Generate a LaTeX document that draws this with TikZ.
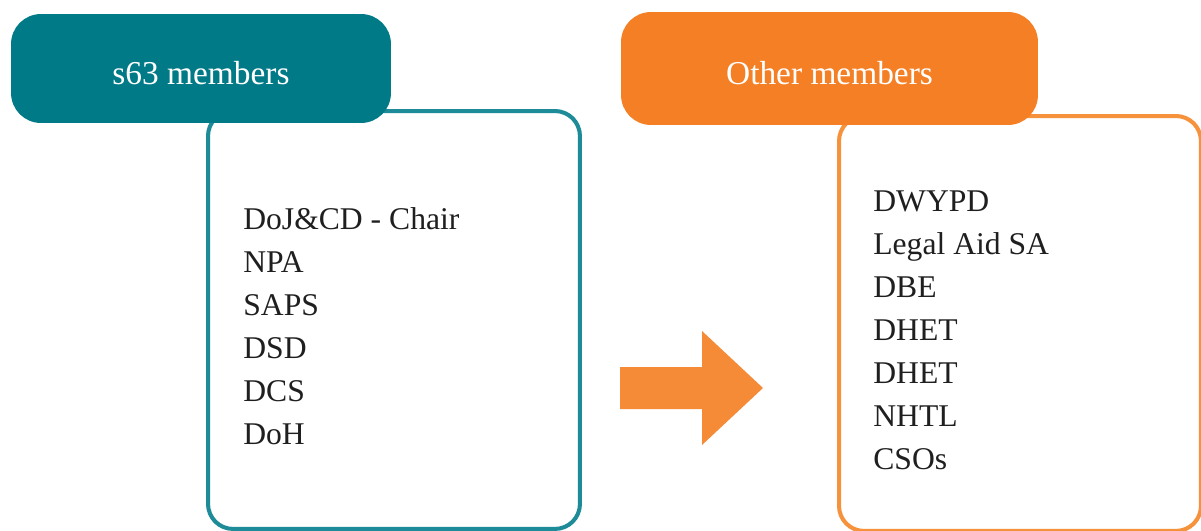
\documentclass[tikz,border=0pt]{standalone}
\usepackage{fontspec}
\setmainfont{Liberation Serif}
\usepackage{tikz}
\usetikzlibrary{positioning}
\definecolor{TealHead}{HTML}{007A87}
\definecolor{TealLine}{HTML}{1E8C98}
\definecolor{OrangeHead}{HTML}{F47F24}
\definecolor{OrangeArrow}{HTML}{F68B37}
\definecolor{OrangeLine}{HTML}{F7923C}
\tikzset{
  headbox/.style={rounded corners=0.6cm,inner sep=0pt,text=white,
    font=\fontsize{19pt}{23pt}\selectfont,text height=0.64cm,text depth=0pt},
  listbox/.style={rounded corners=0.5cm,fill=white,line width=2.3pt,inner sep=0pt,anchor=north west},
  listtext/.style={anchor=base west,inner sep=0pt,align=left,text=black!88,
    font=\fontsize{18pt}{24.47pt}\selectfont}
}

\begin{document}
\begin{tikzpicture}[x=0.02cm,y=-0.02cm]
  \useasboundingbox (0,0) rectangle (1201,531);
  % left group
  \node[listbox,draw=TealLine,minimum width=7.44cm,minimum height=8.36cm] (s63box) at (206,109) {};
  \node[headbox,fill=TealHead,minimum width=7.6cm,minimum height=2.18cm] (s63head) at (201,68.5) {s63 members};
  \node[listtext] (s63list) at (243,444) {DoJ\&CD - Chair\\NPA\\SAPS\\DSD\\DCS\\DoH};
  % right group
  \node[listbox,draw=OrangeLine,minimum width=7.24cm,minimum height=8.3cm] (otherbox) at (837,114) {};
  \node[headbox,fill=OrangeHead,minimum width=8.34cm,minimum height=2.26cm] (otherhead) at (829.5,68.5) {Other members};
  \node[listtext] (otherlist) at (873,469) {DWYPD\\Legal Aid SA\\DBE\\DHET\\DHET\\NHTL\\CSOs};
  % arrow between
  \fill[OrangeArrow] (620,367) -- (702,367) -- (702,331) -- (763,388) -- (702,445) -- (702,409) -- (620,409) -- cycle;
\end{tikzpicture}
\end{document}
